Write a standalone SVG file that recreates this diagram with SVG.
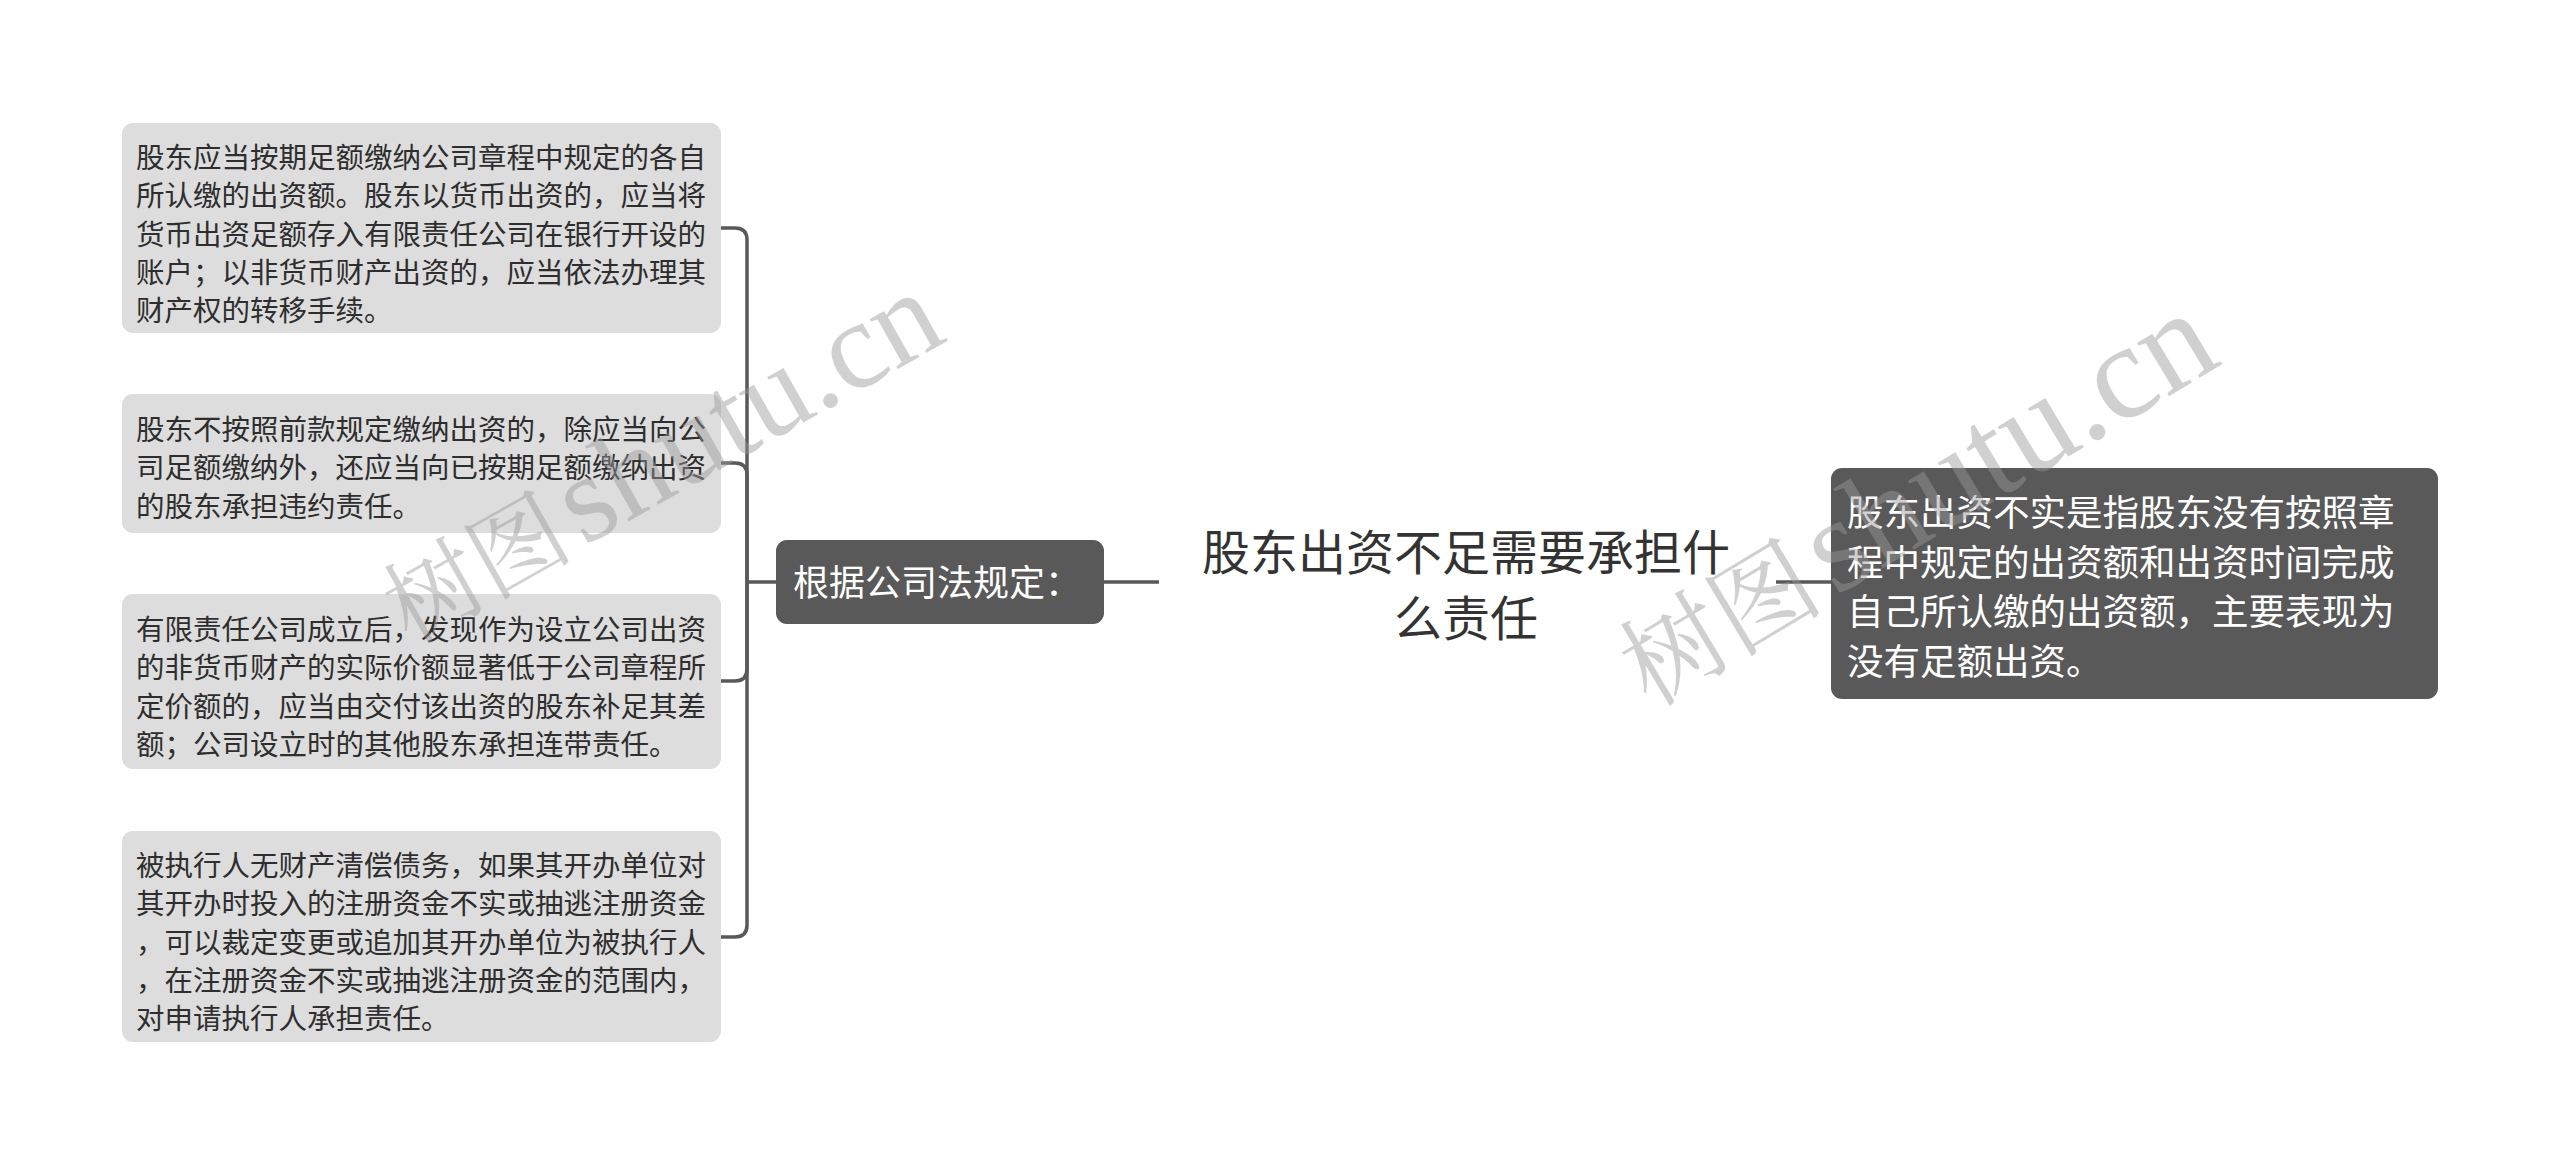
<svg xmlns="http://www.w3.org/2000/svg" width="2560" height="1166" viewBox="0 0 2560 1166">
<style>
.leaf rect{fill:#dddddd;}
.leaf text{font-family:"Noto Sans CJK SC","Noto Sans",sans-serif;font-size:28.5px;fill:#2e2e2e;}
.dark rect{fill:#595959;}
.dark text{font-family:"Noto Sans CJK SC","Noto Sans",sans-serif;fill:#ffffff;}
.topic text{font-family:"Noto Sans CJK SC","Noto Sans",sans-serif;font-size:48px;fill:#333333;}
.conn path{fill:none;stroke:#595959;stroke-width:3.5;}
.wm{fill:#999999;opacity:0.45;}
.wm .cjk{font-family:"Noto Serif CJK SC","Noto Sans CJK SC",serif;font-size:95px;}
.wm .lat{font-family:"Liberation Serif",serif;font-size:125px;}
</style>
<rect width="2560" height="1166" fill="#ffffff"/>
<g class="conn" id="connectors">
<path d="M747 582 V240 Q747 228 735 228 H721"/>
<path d="M747 582 V475 Q747 463 735 463 H721"/>
<path d="M747 582 V669 Q747 681 735 681 H721"/>
<path d="M747 582 V925 Q747 937 735 937 H721"/>
<path d="M747 582 H776"/>
<path d="M1104 582 H1159"/>
<path d="M1776 582 H1832"/>
</g>
<g id="leaf1" class="leaf">
<rect x="122" y="123" width="599" height="210" rx="11"/>
<text x="136" y="168">股东应当按期足额缴纳公司章程中规定的各自</text>
<text x="136" y="206.3">所认缴的出资额。股东以货币出资的，应当将</text>
<text x="136" y="244.6">货币出资足额存入有限责任公司在银行开设的</text>
<text x="136" y="282.9">账户；以非货币财产出资的，应当依法办理其</text>
<text x="136" y="321.2">财产权的转移手续。</text>
</g>
<g id="leaf2" class="leaf">
<rect x="122" y="394" width="599" height="139" rx="11"/>
<text x="136" y="440">股东不按照前款规定缴纳出资的，除应当向公</text>
<text x="136" y="478.3">司足额缴纳外，还应当向已按期足额缴纳出资</text>
<text x="136" y="516.6">的股东承担违约责任。</text>
</g>
<g id="leaf3" class="leaf">
<rect x="122" y="594" width="599" height="175" rx="11"/>
<text x="136" y="640">有限责任公司成立后，发现作为设立公司出资</text>
<text x="136" y="678.3">的非货币财产的实际价额显著低于公司章程所</text>
<text x="136" y="716.6">定价额的，应当由交付该出资的股东补足其差</text>
<text x="136" y="754.9">额；公司设立时的其他股东承担连带责任。</text>
</g>
<g id="leaf4" class="leaf">
<rect x="122" y="831" width="599" height="211" rx="11"/>
<text x="136" y="876">被执行人无财产清偿债务，如果其开办单位对</text>
<text x="136" y="914.3">其开办时投入的注册资金不实或抽逃注册资金</text>
<text x="136" y="952.6">，可以裁定变更或追加其开办单位为被执行人</text>
<text x="136" y="990.9">，在注册资金不实或抽逃注册资金的范围内，</text>
<text x="136" y="1029.2">对申请执行人承担责任。</text>
</g>
<g id="branch" class="dark">
<rect x="776" y="540" width="328" height="84" rx="11"/>
<text x="793" y="596" font-size="36">根据公司法规定：</text>
</g>
<g id="topic" class="topic">
<text x="1466" y="570" text-anchor="middle">股东出资不足需要承担什</text>
<text x="1466" y="635.5" text-anchor="middle">么责任</text>
</g>
<g id="detail" class="dark">
<rect x="1831" y="468" width="607" height="231" rx="11"/>
<text x="1847" y="526" font-size="36.5">股东出资不实是指股东没有按照章</text>
<text x="1847" y="575.5" font-size="36.5">程中规定的出资额和出资时间完成</text>
<text x="1847" y="625" font-size="36.5">自己所认缴的出资额，主要表现为</text>
<text x="1847" y="674.5" font-size="36.5">没有足额出资。</text>
</g>
<g class="wm" transform="translate(410,645) rotate(-29.5)">
<text x="0" y="0" class="cjk">树图</text>
<text x="200" y="0" class="lat">shutu.cn</text>
</g>
<g class="wm" transform="translate(1650,708) rotate(-31) scale(1.08)">
<text x="0" y="0" class="cjk">树图</text>
<text x="200" y="0" class="lat">shutu.cn</text>
</g>
</svg>
